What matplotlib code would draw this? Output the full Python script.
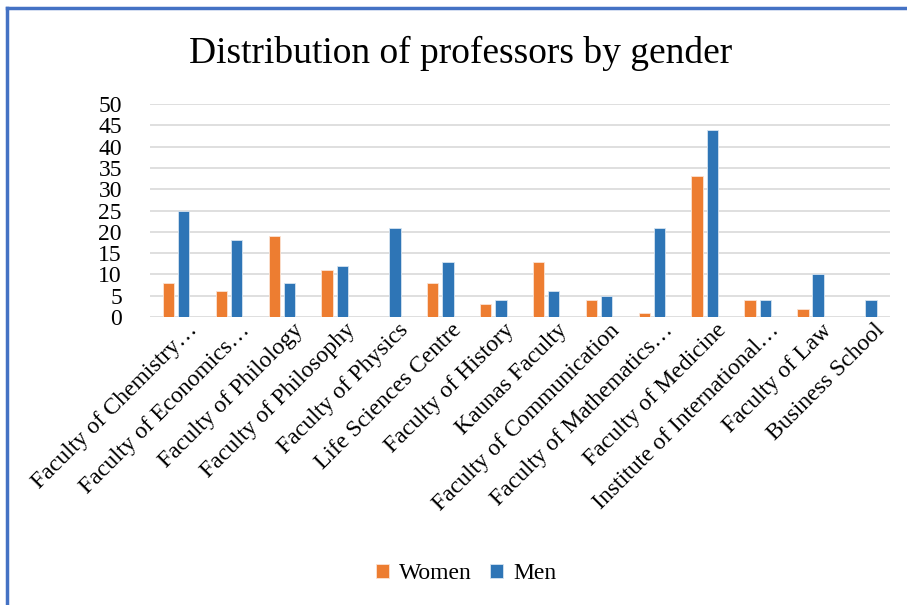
import matplotlib.pyplot as plt
from matplotlib.lines import Line2D
import numpy as np

faculties = ["Faculty of Chemistry…", "Faculty of Economics…", "Faculty of Philology",
             "Faculty of Philosophy", "Faculty of Physics", "Life Sciences Centre",
             "Faculty of History", "Kaunas Faculty", "Faculty of Communication",
             "Faculty of Mathematics…", "Faculty of Medicine", "Institute of International…",
             "Faculty of Law", "Business School"]
women = [8, 6, 19, 11, 0, 8, 3, 13, 4, 1, 33, 4, 2, 0]
men = [25, 18, 8, 12, 21, 13, 4, 6, 5, 21, 44, 4, 10, 4]

plt.rcParams['font.family'] = ['Liberation Serif', 'DejaVu Serif']

fig = plt.figure(figsize=(9.07, 6.05), dpi=100)
ax = fig.add_axes([0.165, 0.476, 0.816, 0.352])

x = np.arange(len(faculties))
w = 0.215
ax.bar(x - 0.144, women, w, color='#ED7D31', edgecolor='#FBE3D3', linewidth=0.6, label='Women', zorder=3)
ax.bar(x + 0.144, men, w, color='#2E75B6', edgecolor='#D5E3F0', linewidth=0.6, label='Men', zorder=3)

ax.set_xlim(-0.5, len(faculties) - 0.5)
ax.set_ylim(0, 50)
ax.set_yticks(range(0, 51, 5))
ax.yaxis.grid(True, color='#D9D9D9', linewidth=1.2, zorder=0)
ax.set_axisbelow(True)
for s in ax.spines.values():
    s.set_visible(False)
ax.tick_params(axis='both', length=0, labelsize=17, colors='black')
ax.tick_params(axis='y', pad=20)
ax.tick_params(axis='x', pad=2)
# labels sit slightly right of the category centre, as in the original
ax.set_xticks(x + 0.2)
ax.set_xticklabels(faculties, rotation=45, ha='right', rotation_mode='anchor', fontsize=17)

fig.text(0.508, 0.912, "Distribution of professors by gender", ha='center', va='center', fontsize=27)

ax.legend(loc='center', bbox_to_anchor=(0.514, 0.052), bbox_transform=fig.transFigure,
          ncol=2, frameon=False, fontsize=17, handlelength=0.55, handleheight=0.55,
          columnspacing=0.8, handletextpad=0.4)

# frame at left and top edges
fig.add_artist(Line2D([0.0075, 0.0075], [0, 0.987], transform=fig.transFigure, color='#4472C4', linewidth=2.5))
fig.add_artist(Line2D([0.0075, 1.0], [0.987, 0.987], transform=fig.transFigure, color='#4472C4', linewidth=2.5))

fig.savefig('out.png', dpi=100)
